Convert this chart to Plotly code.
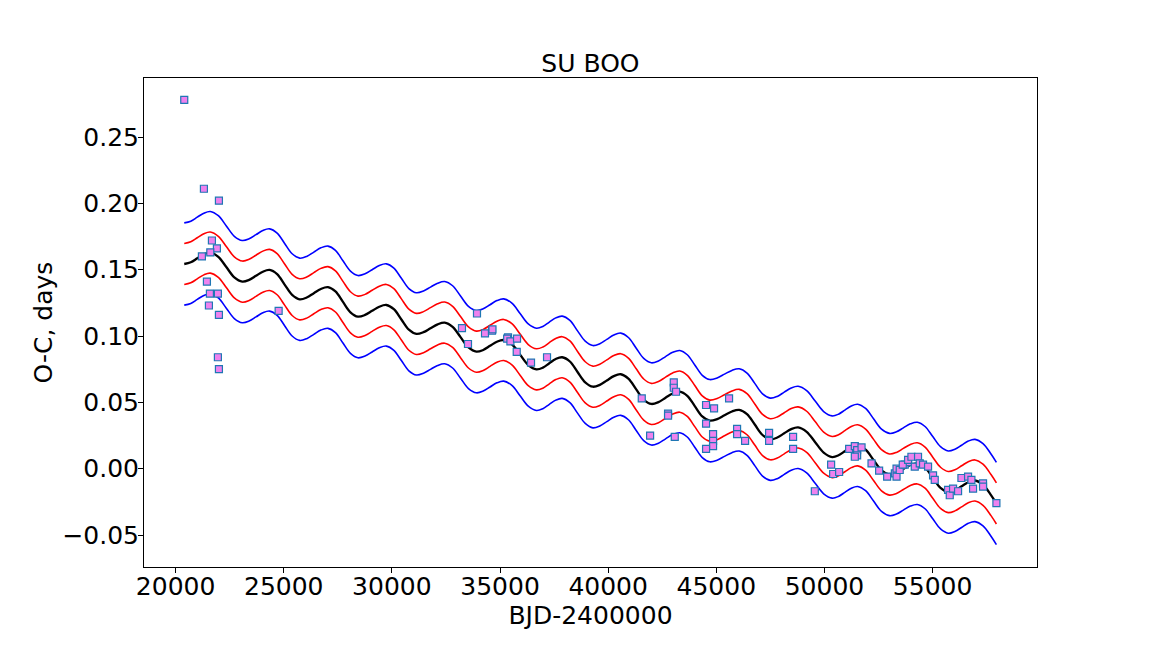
import plotly.graph_objects as go

# Observed O-C points (BJD-2400000, days)
obs_x = [20400, 21309, 22003, 21679, 21910, 21605, 21216, 21448, 21586, 21956,
         21540, 22003, 21956, 22003, 24764, 33935, 33241, 33519, 34305, 34629,
         34650, 35370, 35330, 35480, 35786, 35772, 36433, 37173, 41553, 43033,
         43033, 43139, 42769, 42769, 41939, 43079, 44526, 44896, 45590, 44526,
         44850, 44850, 44850, 44526, 45960, 45960, 46330, 47440, 47440, 48550,
         48550, 49554, 50308, 50401, 50678, 51141, 51404, 51511, 51715, 51511,
         51404, 52176, 52528, 52898, 53254, 53333, 53333, 53480, 53711, 53866,
         53620, 53866, 54021, 54327, 54175, 54406, 54558, 54790, 55021, 55099,
         55715, 55793, 55946, 56178, 56333, 56640, 56871, 56795, 57332, 57332,
         57950]
obs_y = [0.278, 0.211, 0.202, 0.172, 0.166, 0.163, 0.160, 0.141, 0.132, 0.132,
         0.123, 0.116, 0.084, 0.075, 0.119, 0.117, 0.106, 0.094, 0.102, 0.104,
         0.105, 0.099, 0.098, 0.096, 0.098, 0.088, 0.080, 0.084, 0.053, 0.065,
         0.061, 0.058, 0.0415, 0.040, 0.025, 0.024, 0.048, 0.0455, 0.053, 0.034,
         0.026, 0.021, 0.017, 0.015, 0.030, 0.026, 0.021, 0.027, 0.021, 0.024,
         0.015, -0.017, 0.003, -0.004, -0.0025, 0.015, 0.017, 0.014, 0.016, 0.010,
         0.009, 0.004, -0.0015, -0.006, -0.0035, 0.000, -0.006, -0.001, 0.003, 0.005,
         0.003, 0.0066, 0.009, 0.009, 0.0015, 0.004, 0.003, 0.0015, -0.005, -0.0085,
         -0.016, -0.020, -0.015, -0.017, -0.007, -0.006, -0.015, -0.0085, -0.011, -0.0135,
         -0.026]

# Fitted model curve
model_x = [20400, 20701, 21003, 21304, 21605, 21975, 22345, 22715, 23085, 23401,
           23716, 24032, 24347, 24694, 25041, 25388, 25735, 26062, 26390, 26717,
           27044, 27391, 27738, 28084, 28431, 28760, 29088, 29417, 29745, 30092,
           30439, 30786, 31133, 31460, 31787, 32114, 32441, 32808, 33174, 33541,
           33907, 34223, 34539, 34854, 35170, 35548, 35927, 36305, 36683, 36981,
           37279, 37577, 37875, 38230, 38584, 38939, 39293, 39615, 39937, 40259,
           40581, 40935, 41289, 41643, 41997, 42325, 42654, 42982, 43310, 43657,
           44004, 44351, 44698, 45039, 45379, 45720, 46060, 46419, 46778, 47137,
           47496, 47818, 48140, 48462, 48784, 49177, 49570, 49963, 50356, 50651,
           50945, 51240, 51534, 51902, 52270, 52638, 53006, 53328, 53650, 53972,
           54294, 54651, 55008, 55366, 55723, 56032, 56341, 56651, 56960, 57330,
           57700, 57950]
model_y = [0.1543, 0.1556, 0.1586, 0.1616, 0.1629, 0.1597, 0.1520, 0.1442, 0.1410, 0.1423,
           0.1454, 0.1485, 0.1498, 0.1466, 0.1388, 0.1310, 0.1277, 0.1290, 0.1323, 0.1355,
           0.1368, 0.1336, 0.1257, 0.1179, 0.1146, 0.1159, 0.1190, 0.1221, 0.1234, 0.1202,
           0.1125, 0.1048, 0.1016, 0.1029, 0.1059, 0.1088, 0.1101, 0.1069, 0.0992, 0.0914,
           0.0882, 0.0895, 0.0926, 0.0957, 0.0970, 0.0938, 0.0860, 0.0781, 0.0749, 0.0762,
           0.0795, 0.0827, 0.0840, 0.0808, 0.0729, 0.0651, 0.0618, 0.0632, 0.0665, 0.0698,
           0.0712, 0.0679, 0.0600, 0.0521, 0.0488, 0.0502, 0.0535, 0.0567, 0.0581, 0.0549,
           0.0472, 0.0394, 0.0362, 0.0374, 0.0403, 0.0431, 0.0443, 0.0411, 0.0333, 0.0254,
           0.0222, 0.0235, 0.0267, 0.0298, 0.0311, 0.0278, 0.0200, 0.0121, 0.0088, 0.0101,
           0.0132, 0.0163, 0.0176, 0.0144, 0.0066, -0.0012, -0.0044, -0.0032, -0.0002, 0.0028,
           0.0040, 0.0008, -0.0068, -0.0144, -0.0176, -0.0163, -0.0133, -0.0102, -0.0089, -0.0121,
           -0.0199, -0.0262]

# Confidence band offsets from the model (days)
band_offsets = [0.031, 0.0155, -0.0155, -0.031]
band_colors = ["#0000ff", "#ff0000", "#ff0000", "#0000ff"]

x_ticks = [20000, 25000, 30000, 35000, 40000, 45000, 50000, 55000]
y_ticks = [-0.05, 0.00, 0.05, 0.10, 0.15, 0.20, 0.25]

FONT = "DejaVu Sans, Arial, sans-serif"
FS = 25

fig = go.Figure()

for off, col in zip(band_offsets, band_colors):
    fig.add_trace(go.Scatter(
        x=model_x, y=[v + off for v in model_y], mode="lines",
        line=dict(color=col, width=1.6, shape="spline", smoothing=1.0),
        showlegend=False, hoverinfo="skip"))

fig.add_trace(go.Scatter(
    x=model_x, y=model_y, mode="lines",
    line=dict(color="black", width=2.3, shape="spline", smoothing=1.0),
    showlegend=False))

fig.add_trace(go.Scatter(
    x=obs_x, y=obs_y, mode="markers",
    marker=dict(symbol="square", size=7, color="#EE82EE",
                line=dict(color="#1f77b4", width=1.2)),
    showlegend=False))

fig.update_layout(
    width=1152, height=648,
    paper_bgcolor="white", plot_bgcolor="white",
    margin=dict(l=136, r=123, t=70, b=89),
    font=dict(family=FONT, size=FS, color="black"),
    title=dict(text="SU BOO", x=0.5056, xanchor="center", y=0.902, yanchor="bottom",
               font=dict(family=FONT, size=FS, color="black")),
)

fig.update_xaxes(
    range=[18539, 59827], tickvals=x_ticks, ticktext=[str(t) for t in x_ticks],
    showline=True, linecolor="black", linewidth=1, mirror=True,
    ticks="outside", ticklen=5, tickwidth=1, tickcolor="black",
    showgrid=False, zeroline=False, ticklabelstandoff=-8,
    tickfont=dict(family=FONT, size=FS, color="black"),
    title=dict(text="BJD-2400000", standoff=0, font=dict(family=FONT, size=FS, color="black")),
)
fig.update_yaxes(
    range=[-0.0741, 0.2945], tickvals=y_ticks, tickformat=".2f",
    showline=True, linecolor="black", linewidth=1, mirror=True,
    ticks="outside", ticklen=5, tickwidth=1, tickcolor="black",
    showgrid=False, zeroline=False, ticklabelstandoff=-6,
    tickfont=dict(family=FONT, size=FS, color="black"),
    title=dict(text="O-C, days", standoff=2, font=dict(family=FONT, size=FS, color="black")),
)

fig.write_html("out.html")
